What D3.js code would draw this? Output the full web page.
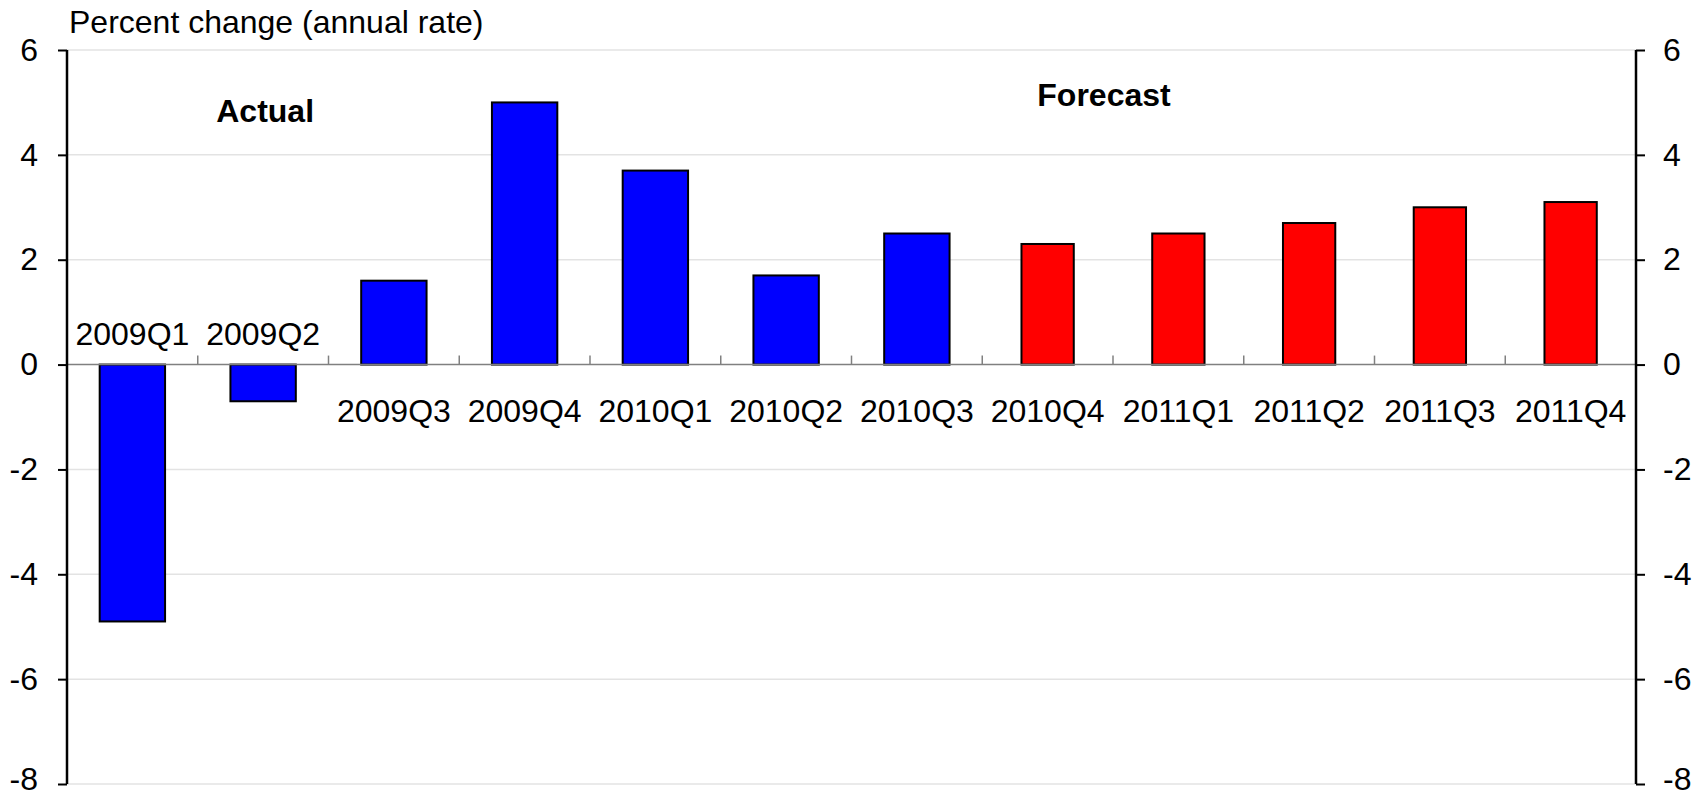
<!DOCTYPE html>
<html>
<head>
<meta charset="utf-8">
<script src="https://cdn.jsdelivr.net/npm/d3@7"></script>
<style>
  html, body { margin: 0; padding: 0; background: #fff; }
  svg { display: block; font-family: Arial, "Liberation Sans", sans-serif; }
</style>
</head>
<body>
<svg id="chart" width="1707" height="799"></svg>
<script>
// Quarterly real GDP growth, percent change at an annual rate
const quarters = ["2009Q1", "2009Q2", "2009Q3", "2009Q4", "2010Q1", "2010Q2",
                  "2010Q3", "2010Q4", "2011Q1", "2011Q2", "2011Q3", "2011Q4"];
const actualValues   = [-4.9, -0.7, 1.6, 5.0, 3.7, 1.7, 2.5, null, null, null, null, null];
const forecastValues = [null, null, null, null, null, null, null, 2.3, 2.5, 2.7, 3.0, 3.1];
const yTicks = [-8, -6, -4, -2, 0, 2, 4, 6];

const W = 1707, H = 799;
const margin = { top: 50, right: 71, bottom: 15, left: 67 };
const FONT = 32;
const svg = d3.select("#chart");

const x = d3.scaleBand()
  .domain(quarters)
  .range([margin.left, W - margin.right])
  .paddingInner(0).paddingOuter(0);

const y = d3.scaleLinear()
  .domain([-8, 6])
  .range([H - margin.bottom, margin.top]);

const x0 = margin.left, x1 = W - margin.right;

// horizontal gridlines
svg.append("g")
  .selectAll("line")
  .data(yTicks.filter(d => d !== 0))
  .join("line")
  .attr("x1", x0).attr("x2", x1)
  .attr("y1", d => y(d)).attr("y2", d => y(d))
  .attr("stroke", "#e3e3e3").attr("stroke-width", 1.5);

// bars
const series = [
  { values: actualValues,   color: "#0000ff", widthFrac: 0.5 },
  { values: forecastValues, color: "#ff0000", widthFrac: 0.4 }
];
series.forEach(s => {
  const rows = quarters.map((q, i) => ({ q, v: s.values[i] })).filter(d => d.v != null);
  const bw = x.bandwidth() * s.widthFrac;
  svg.append("g")
    .selectAll("rect")
    .data(rows)
    .join("rect")
    .attr("x", d => x(d.q) + (x.bandwidth() - bw) / 2)
    .attr("width", bw)
    .attr("y", d => y(Math.max(0, d.v)))
    .attr("height", d => Math.abs(y(d.v) - y(0)))
    .attr("fill", s.color)
    .attr("stroke", "#000")
    .attr("stroke-width", 2);
});

// zero line with category boundary ticks
svg.append("line")
  .attr("x1", x0).attr("x2", x1)
  .attr("y1", y(0)).attr("y2", y(0))
  .attr("stroke", "#808080").attr("stroke-width", 1.5);
svg.append("g")
  .selectAll("line")
  .data(quarters.slice(1))
  .join("line")
  .attr("x1", d => x(d)).attr("x2", d => x(d))
  .attr("y1", y(0)).attr("y2", y(0) - 9)
  .attr("stroke", "#808080").attr("stroke-width", 1.5);

// category labels: above the zero line for declines, below it for gains
const values = quarters.map((q, i) => actualValues[i] != null ? actualValues[i] : forecastValues[i]);
svg.append("g")
  .selectAll("text")
  .data(quarters.map((q, i) => ({ q, v: values[i] })))
  .join("text")
  .attr("x", d => x(d.q) + x.bandwidth() / 2)
  .attr("y", d => d.v < 0 ? y(0) - 20 : y(0) + 57)
  .attr("text-anchor", "middle")
  .attr("font-size", FONT)
  .attr("fill", "#000")
  .text(d => d.q);

// left and right value axes
const fmt = d => String(d);
const leftAxis = d3.axisLeft(y).tickValues(yTicks).tickSize(9).tickPadding(20).tickFormat(fmt);
const rightAxis = d3.axisRight(y).tickValues(yTicks).tickSize(9).tickPadding(18).tickFormat(fmt);

function styleAxis(g) {
  g.select(".domain").remove();
  g.selectAll(".tick line").attr("stroke", "#000").attr("stroke-width", 2);
  g.selectAll(".tick text")
    .attr("font-size", FONT).attr("fill", "#000")
    .attr("font-family", "Arial, 'Liberation Sans', sans-serif")
    .attr("dy", d => d === -8 ? "0.18em" : "0.32em");
}
svg.append("g").attr("transform", `translate(${x0},0)`).call(leftAxis).call(styleAxis);
svg.append("g").attr("transform", `translate(${x1},0)`).call(rightAxis).call(styleAxis);

[x0, x1].forEach(px => {
  svg.append("line")
    .attr("x1", px).attr("x2", px)
    .attr("y1", y(6)).attr("y2", y(-8))
    .attr("stroke", "#000").attr("stroke-width", 2.5);
});

// axis title
svg.append("text")
  .attr("x", 69).attr("y", 33)
  .attr("font-size", FONT).attr("fill", "#000")
  .text("Percent change (annual rate)");

// period annotations
svg.append("text")
  .attr("x", x("2009Q2") + x.bandwidth() / 2 + 2)
  .attr("y", 122)
  .attr("text-anchor", "middle")
  .attr("font-size", FONT).attr("font-weight", "bold")
  .text("Actual");
svg.append("text")
  .attr("x", x("2011Q1") - 9)
  .attr("y", 106)
  .attr("text-anchor", "middle")
  .attr("font-size", FONT).attr("font-weight", "bold")
  .text("Forecast");
</script>
</body>
</html>
